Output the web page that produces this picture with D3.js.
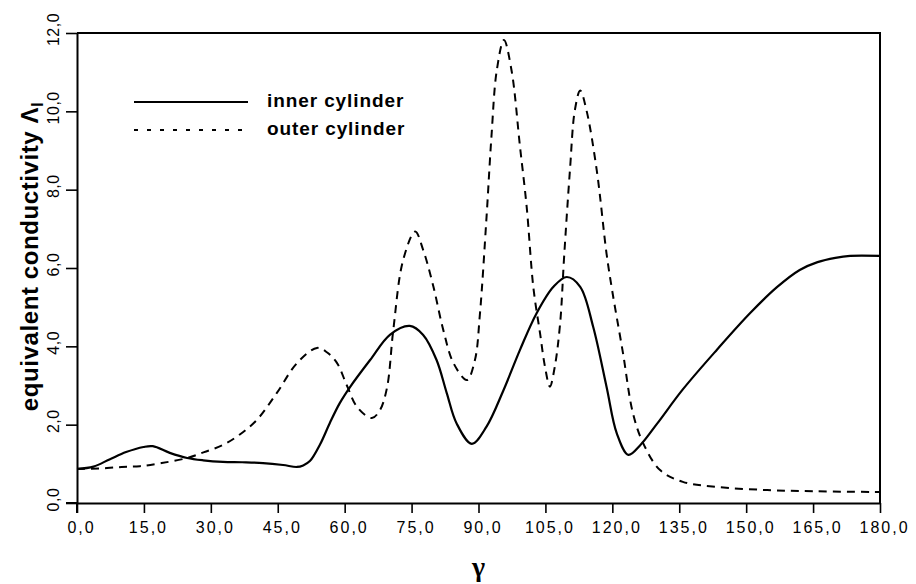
<!DOCTYPE html>
<html>
<head>
<meta charset="utf-8">
<script src="https://cdn.jsdelivr.net/npm/d3@7/dist/d3.min.js"></script>
<style>
  html, body { margin: 0; padding: 0; background: #fff; }
  svg { display: block; }
</style>
</head>
<body>
<svg id="chart" width="916" height="584"></svg>
<script>
// ---- data ----
const innerX = [0, 3.7, 7.4, 11, 14.9, 17, 20.8, 24.7, 28.3, 32.7, 37, 41.7, 46.2, 49.3, 50.7, 52.2, 54.5, 56.7, 58.9, 61.2, 65.7, 70.2, 74.6, 77.6, 80.6, 82.9, 85.1, 88.5, 91.8, 95.6, 99.3, 103, 106.8, 109.8, 112.8, 115.7, 118.7, 121, 123.6, 126.2, 130, 135.8, 143.5, 150.9, 156.9, 162, 166, 170, 173.3, 180];
const innerY = [0.87, 0.93, 1.12, 1.30, 1.43, 1.45, 1.28, 1.15, 1.09, 1.05, 1.04, 1.02, 0.97, 0.92, 0.96, 1.07, 1.50, 2.05, 2.55, 2.96, 3.65, 4.30, 4.52, 4.29, 3.65, 2.80, 2.03, 1.51, 1.95, 2.88, 3.91, 4.84, 5.52, 5.77, 5.52, 4.50, 2.97, 1.78, 1.23, 1.47, 2.02, 2.90, 3.92, 4.85, 5.51, 5.95, 6.15, 6.26, 6.31, 6.31];

const outerX = [0, 5, 10, 14.1, 19, 24.7, 28.5, 32.7, 36.5, 40.3, 44.8, 49.3, 53.8, 56, 58.3, 60.5, 62.8, 66.1, 67.9, 69.5, 70.9, 73.1, 75.8, 77.6, 79.9, 82.1, 84.4, 87.4, 89.2, 90.3, 91.8, 92.9, 94.1, 95.7, 97.4, 99.3, 100.8, 102.3, 103.8, 104.9, 106, 107.1, 108.3, 109.2, 110.5, 111.6, 112.8, 114.2, 116.5, 118.7, 120, 122.4, 124.6, 126.9, 130.7, 135.8, 143.5, 154.7, 165, 180];
const outerY = [0.87, 0.88, 0.92, 0.94, 1.02, 1.15, 1.30, 1.48, 1.75, 2.12, 2.81, 3.57, 3.96, 3.85, 3.57, 3.00, 2.45, 2.17, 2.37, 2.95, 4.42, 6.20, 6.93, 6.46, 5.52, 4.42, 3.57, 3.14, 3.65, 4.80, 7.30, 9.35, 11.05, 11.82, 11.05, 9.10, 7.56, 5.50, 4.33, 3.48, 2.97, 3.48, 4.59, 6.30, 8.50, 10.03, 10.53, 10.03, 8.50, 6.37, 5.40, 3.82, 2.30, 1.53, 0.84, 0.54, 0.41, 0.33, 0.30, 0.28];

const xTicks = [0, 15, 30, 45, 60, 75, 90, 105, 120, 135, 150, 165, 180];
const yTicks = [0, 2, 4, 6, 8, 10, 12];
const seriesNames = ["inner cylinder", "outer cylinder"];
const xTitle = "γ";
const yTitle = "equivalent conductivity Λ";
const yTitleSub = "I";

// ---- layout ----
const svg = d3.select("#chart");
const mLeft = 77, mRight = 880, mTop = 33, mBottom = 503;

const x = d3.scaleLinear().domain([0, 180]).range([mLeft, mRight]);
const y = d3.scaleLinear().domain([0, 12]).range([mBottom, mTop]);

const fmt = v => d3.format(".1f")(v).replace(".", ",");

// frame (top & right)
svg.append("path")
  .attr("d", `M${x(0)},${y(12)} H${x(180)} V${y(0)}`)
  .attr("fill", "none").attr("stroke", "#000").attr("stroke-width", 2);

// x axis
const gx = svg.append("g")
  .attr("transform", `translate(0,${mBottom})`)
  .call(d3.axisBottom(x).tickValues(xTicks).tickFormat(fmt).tickSize(10).tickSizeOuter(0));
gx.select(".domain").attr("stroke-width", 2);
gx.selectAll(".tick line").attr("stroke-width", 1.6);
gx.selectAll(".tick text")
  .attr("y", 30).attr("dy", 0).attr("dx", 4)
  .attr("font-family", "'Liberation Sans', Arial, sans-serif")
  .attr("letter-spacing", 2)
  .attr("font-size", 16).attr("fill", "#000");

// y axis
const gy = svg.append("g")
  .attr("transform", `translate(${mLeft},0)`)
  .call(d3.axisLeft(y).tickValues(yTicks).tickFormat(fmt).tickSize(11).tickSizeOuter(0));
gy.select(".domain").attr("stroke-width", 2);
gy.selectAll(".tick line").attr("stroke-width", 1.6);
gy.selectAll(".tick text")
  .attr("x", 0).attr("dy", 0)
  .attr("text-anchor", "middle")
  .attr("transform", "translate(-18,-4) rotate(-90)")
  .attr("font-family", "'Liberation Sans', Arial, sans-serif")
  .attr("letter-spacing", 0.5)
  .attr("font-size", 16).attr("fill", "#000");
// extend y axis below x axis like the original
svg.append("line")
  .attr("x1", mLeft).attr("x2", mLeft).attr("y1", mBottom).attr("y2", mBottom + 10)
  .attr("stroke", "#000").attr("stroke-width", 2);
// extend x axis left of y axis
svg.append("line")
  .attr("x1", mLeft - 11).attr("x2", mLeft).attr("y1", mBottom).attr("y2", mBottom)
  .attr("stroke", "#000").attr("stroke-width", 2);

// lines
const line = d3.line().curve(d3.curveCatmullRom.alpha(0.5)).x(d => x(d[0])).y(d => y(d[1]));
const innerData = innerX.map((v, i) => [v, innerY[i]]);
const outerData = outerX.map((v, i) => [v, outerY[i]]);

svg.append("path").datum(outerData)
  .attr("d", line).attr("fill", "none")
  .attr("stroke", "#000").attr("stroke-width", 2)
  .attr("stroke-dasharray", "8,6");

svg.append("path").datum(innerData)
  .attr("d", line).attr("fill", "none")
  .attr("stroke", "#000").attr("stroke-width", 2.2);

// legend
const lg = svg.append("g");
lg.append("line").attr("x1", 134).attr("x2", 248).attr("y1", 102).attr("y2", 102)
  .attr("stroke", "#000").attr("stroke-width", 2.2);
lg.append("line").attr("x1", 134).attr("x2", 248).attr("y1", 130).attr("y2", 130)
  .attr("stroke", "#000").attr("stroke-width", 2.2).attr("stroke-dasharray", "4,9");
lg.selectAll("text.leg").data(seriesNames).enter().append("text")
  .attr("class", "leg")
  .attr("x", 267).attr("y", (d, i) => 107 + i * 28)
  .attr("font-family", "'Liberation Sans', Arial, sans-serif")
  .attr("font-weight", "bold").attr("font-size", 19)
  .attr("letter-spacing", 0.9)
  .attr("fill", "#000")
  .text(d => d);

// axis titles
const yt = svg.append("text")
  .attr("transform", `translate(38,${(420 + 93) / 2}) rotate(-90)`)
  .attr("text-anchor", "middle")
  .attr("font-family", "'Liberation Sans', Arial, sans-serif")
  .attr("font-weight", "bold").attr("font-size", 24)
  .attr("letter-spacing", 0.6)
  .attr("fill", "#000");
yt.append("tspan").text(yTitle);
yt.append("tspan").attr("font-size", 16).attr("dy", 5).text(yTitleSub);

svg.append("text")
  .attr("x", x(90)).attr("y", 576)
  .attr("text-anchor", "middle")
  .attr("font-family", "'Liberation Serif', serif")
  .attr("font-weight", "bold").attr("font-size", 28)
  .attr("fill", "#000")
  .text(xTitle);
</script>
</body>
</html>
